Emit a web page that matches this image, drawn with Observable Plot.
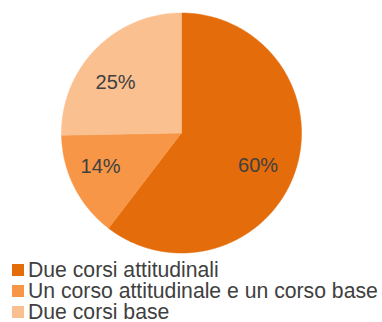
<!DOCTYPE html>
<html>
<head>
<meta charset="utf-8">
<script src="https://cdn.jsdelivr.net/npm/d3@7"></script>
<script src="https://cdn.jsdelivr.net/npm/@observablehq/plot@0.6"></script>
<style>
  body { margin: 0; background: #fff; font-family: "Liberation Sans", Arial, sans-serif; }
  #chart { height: 258px; }
  #legend { margin: 0; padding-top: 1px; padding-left: 12px; font-size: 21.2px; line-height: 21px; color: #404040; }
  .row { display: flex; align-items: center; white-space: nowrap; height: 21px; }
  .sw { width: 12px; height: 12px; margin-right: 4px; flex: none; }
</style>
</head>
<body>
<div id="chart"></div>
<div id="legend"></div>
<script>
const categories = ["Due corsi attitudinali", "Un corso attitudinale e un corso base", "Due corsi base"];
const values = [60.4, 14.3, 25.3];
const labels = ["60%", "14%", "25%"];
const colors = ["#E46C0A", "#F79646", "#FAC090"];

const total = d3.sum(values);
let acc = 0;
const slices = categories.map((c, i) => {
  const a0 = acc / total * 2 * Math.PI;
  acc += values[i];
  const a1 = acc / total * 2 * Math.PI;
  return {category: c, a0, a1, label: labels[i]};
});

const pts = [];
for (const s of slices) {
  pts.push({category: s.category, x: 0, y: 0});
  const n = Math.max(2, Math.ceil((s.a1 - s.a0) / 0.01));
  for (let k = 0; k <= n; k++) {
    const a = s.a0 + (s.a1 - s.a0) * k / n;
    pts.push({category: s.category, x: Math.sin(a), y: Math.cos(a)});
  }
  pts.push({category: s.category, x: 0, y: 0});
}
const lr = 0.7;
const labelPts = slices.map(s => {
  const a = (s.a0 + s.a1) / 2;
  return {label: s.label, x: Math.sin(a) * lr, y: Math.cos(a) * lr};
});
const textOpts = {x: "x", y: "y", text: "label", fill: "#404040", fontSize: 20};

const plot = Plot.plot({
  width: 382,
  height: 258,
  margin: 0,
  x: {domain: [-1, 1], range: [61, 301], axis: null},
  y: {domain: [-1, 1], range: [252.5, 12.5], axis: null},
  color: {domain: categories, range: colors},
  style: {fontFamily: "'Liberation Sans', Arial, sans-serif", background: "#fff", display: "block"},
  marks: [
    Plot.line(pts, {x: "x", y: "y", z: "category", fill: "category", stroke: "category", strokeWidth: 0.5, curve: "linear"}),
    Plot.text([labelPts[0]], {...textOpts, dx: -3, dy: 5.5}),
    Plot.text([labelPts[1]], {...textOpts, dx: -6, dy: -4}),
    Plot.text([labelPts[2]], {...textOpts, dx: -6, dy: 8.5})
  ]
});
document.getElementById("chart").appendChild(plot);

const legend = document.getElementById("legend");
categories.forEach((c, i) => {
  const row = document.createElement("div");
  row.className = "row";
  const sw = document.createElement("span");
  sw.className = "sw";
  sw.style.background = colors[i];
  const t = document.createElement("span");
  t.textContent = c;
  row.appendChild(sw);
  row.appendChild(t);
  legend.appendChild(row);
});
</script>
</body>
</html>
